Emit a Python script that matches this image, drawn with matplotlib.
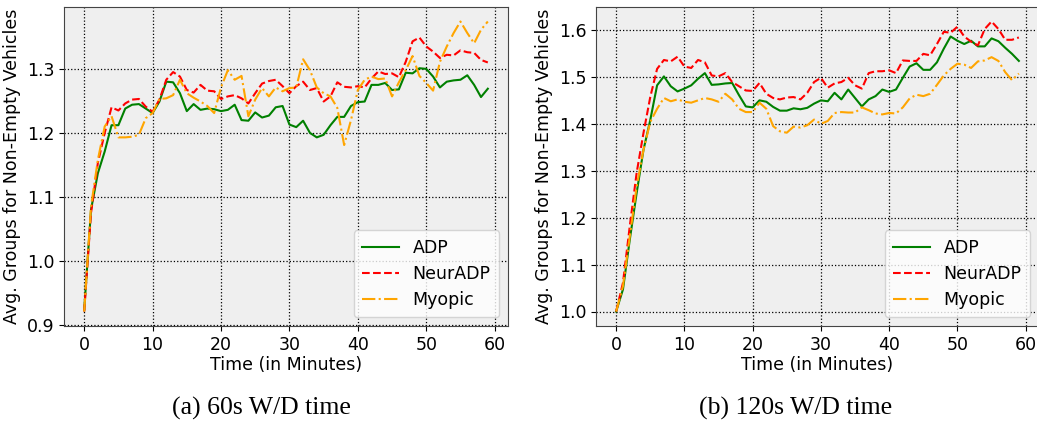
import matplotlib
matplotlib.use("Agg")
import matplotlib.pyplot as plt
import numpy as np

minutes = list(range(60))

adp_60 = [0.923, 1.080, 1.137, 1.171, 1.212, 1.212, 1.238, 1.244, 1.245, 1.238,
          1.231, 1.249, 1.280, 1.279, 1.262, 1.234, 1.245, 1.236, 1.238, 1.237,
          1.234, 1.236, 1.244, 1.220, 1.219, 1.232, 1.224, 1.227, 1.240, 1.242,
          1.213, 1.209, 1.219, 1.200, 1.193, 1.197, 1.212, 1.225, 1.225, 1.242,
          1.248, 1.249, 1.275, 1.275, 1.278, 1.267, 1.268, 1.294, 1.293, 1.301,
          1.300, 1.288, 1.271, 1.280, 1.282, 1.283, 1.290, 1.275, 1.256, 1.269]
neur_60 = [0.921, 1.075, 1.153, 1.200, 1.240, 1.235, 1.246, 1.252, 1.253, 1.241,
           1.233, 1.252, 1.283, 1.295, 1.288, 1.267, 1.263, 1.275, 1.266, 1.265,
           1.253, 1.257, 1.259, 1.254, 1.246, 1.262, 1.277, 1.281, 1.283, 1.273,
           1.262, 1.273, 1.280, 1.267, 1.270, 1.249, 1.257, 1.279, 1.272, 1.271,
           1.273, 1.271, 1.285, 1.296, 1.292, 1.293, 1.287, 1.311, 1.343, 1.349,
           1.335, 1.327, 1.317, 1.322, 1.321, 1.329, 1.326, 1.325, 1.314, 1.310]
myo_60 = [0.921, 1.085, 1.158, 1.210, 1.226, 1.193, 1.193, 1.194, 1.197, 1.223,
          1.231, 1.253, 1.254, 1.259, 1.283, 1.262, 1.255, 1.249, 1.242, 1.231,
          1.271, 1.298, 1.283, 1.289, 1.226, 1.252, 1.270, 1.257, 1.271, 1.265,
          1.270, 1.271, 1.315, 1.298, 1.271, 1.262, 1.257, 1.239, 1.181, 1.220,
          1.267, 1.283, 1.288, 1.284, 1.285, 1.257, 1.279, 1.298, 1.320, 1.289,
          1.278, 1.266, 1.311, 1.335, 1.356, 1.374, 1.356, 1.340, 1.361, 1.374]

adp_120 = [1.000, 1.047, 1.153, 1.252, 1.344, 1.408, 1.482, 1.501, 1.480, 1.469,
           1.475, 1.482, 1.496, 1.508, 1.483, 1.484, 1.486, 1.487, 1.461, 1.437,
           1.435, 1.450, 1.447, 1.436, 1.428, 1.428, 1.433, 1.431, 1.434, 1.443,
           1.450, 1.448, 1.466, 1.452, 1.473, 1.455, 1.437, 1.452, 1.459, 1.473,
           1.468, 1.473, 1.498, 1.522, 1.529, 1.515, 1.515, 1.531, 1.560, 1.586,
           1.577, 1.570, 1.577, 1.565, 1.565, 1.582, 1.576, 1.562, 1.549, 1.534]
neur_120 = [1.000, 1.061, 1.182, 1.295, 1.380, 1.457, 1.517, 1.536, 1.533, 1.543,
            1.522, 1.519, 1.536, 1.531, 1.503, 1.501, 1.508, 1.489, 1.480, 1.471,
            1.470, 1.487, 1.464, 1.455, 1.452, 1.456, 1.457, 1.452, 1.466, 1.489,
            1.498, 1.477, 1.486, 1.489, 1.498, 1.482, 1.475, 1.508, 1.512, 1.512,
            1.514, 1.508, 1.535, 1.534, 1.534, 1.549, 1.546, 1.570, 1.596, 1.594,
            1.607, 1.586, 1.575, 1.567, 1.602, 1.618, 1.602, 1.579, 1.579, 1.584]
myo_120 = [1.000, 1.054, 1.160, 1.266, 1.344, 1.404, 1.432, 1.455, 1.448, 1.452,
           1.447, 1.445, 1.450, 1.455, 1.452, 1.447, 1.464, 1.452, 1.432, 1.425,
           1.425, 1.445, 1.432, 1.395, 1.384, 1.381, 1.394, 1.392, 1.397, 1.409,
           1.400, 1.406, 1.423, 1.425, 1.424, 1.424, 1.435, 1.429, 1.422, 1.420,
           1.423, 1.422, 1.435, 1.454, 1.462, 1.459, 1.464, 1.483, 1.503, 1.517,
           1.528, 1.526, 1.519, 1.533, 1.535, 1.542, 1.534, 1.510, 1.493, 1.507]

series_labels = ["ADP", "NeurADP", "Myopic"]
captions = ["(a) 60s W/D time", "(b) 120s W/D time"]
xticks = [0, 10, 20, 30, 40, 50, 60]
yticks_a = [0.9, 1.0, 1.1, 1.2, 1.3]
yticks_b = [1.0, 1.1, 1.2, 1.3, 1.4, 1.5, 1.6]

W, H = 1037, 425
fig = plt.figure(figsize=(W / 100, H / 100), dpi=100)

def box(l, r, t, b):
    return [l / W, 1 - b / H, (r - l) / W, (b - t) / H]

ax1 = fig.add_axes(box(64, 508, 7, 326))
ax2 = fig.add_axes(box(596, 1039, 7, 326))

styles = [dict(color="green", ls="-"), dict(color="red", ls="--"),
          dict(color="orange", ls="-.")]

for ax, data, yt, cap, cx in [
        (ax1, [adp_60, neur_60, myo_60], yticks_a, captions[0], 261),
        (ax2, [adp_120, neur_120, myo_120], yticks_b, captions[1], 796)]:
    ax.set_facecolor("#efefef")
    for vals, lab, st in zip(data, series_labels, styles):
        ax.plot(minutes, vals, label=lab, lw=1.5, **st)
    ax.set_xticks(xticks)
    ax.set_yticks(yt)
    ax.grid(True, color="black", ls=":", lw=0.9)
    ax.set_axisbelow(True)
    ax.tick_params(labelsize=12.5)
    ax.set_xlabel("Time (in Minutes)", fontsize=12.5, labelpad=2)
    ax.set_ylabel("Avg. Groups for Non-Empty Vehicles", fontsize=12.5, labelpad=4)
    ax.legend(loc="lower right", fontsize=12.5, framealpha=0.8,
              handlelength=2.1, borderpad=0.5, labelspacing=0.45)
    for s in ax.spines.values():
        s.set_color("#444444")
    fig.text(cx / W, 1 - 408 / H, cap, ha="center", va="center",
             fontsize=18.5, family="Liberation Serif")

fig.savefig("out.png", dpi=100)
